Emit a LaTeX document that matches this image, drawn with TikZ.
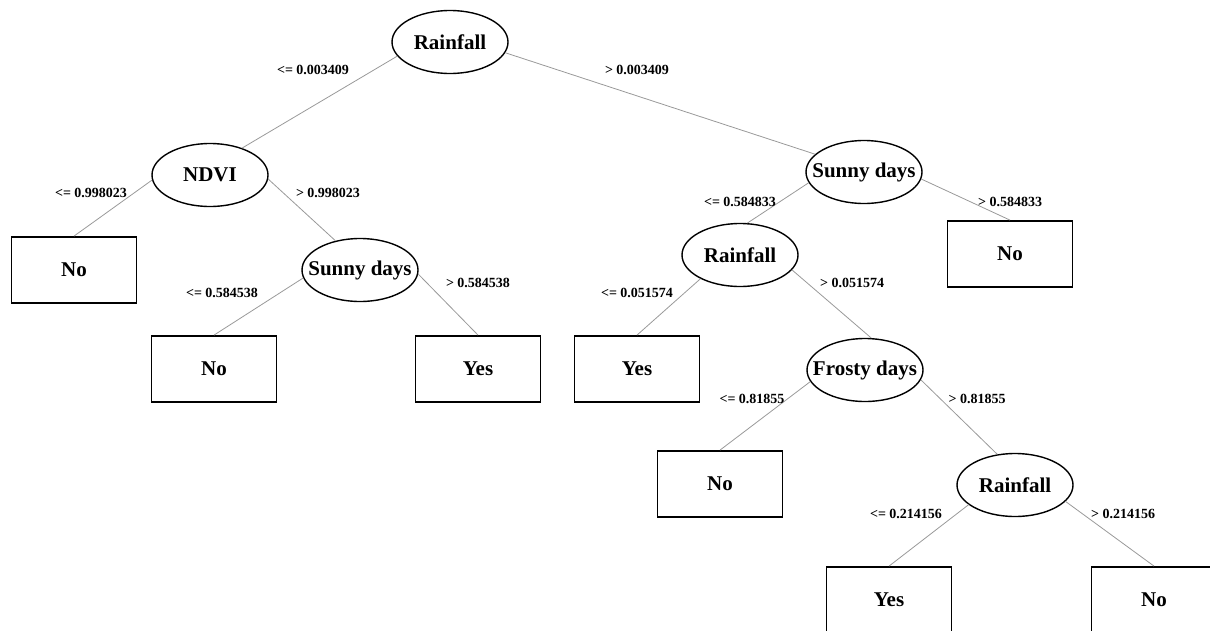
\documentclass[tikz,border=0pt]{standalone}
\usepackage{fontspec}
\setmainfont{Liberation Serif}
\usetikzlibrary{shapes.geometric}
\newcommand{\splitText}[1]{\makebox[0pt]{#1}}
\tikzset{%
  % Specifications for style of nodes:
     base/.style = {draw=black, inner sep=0pt,
                           font=\fontsize{21}{25}\selectfont\bfseries},
    splitNode/.style = {base, ellipse, line width=1.4pt,
                           minimum width=116pt, minimum height=63pt},
    leafNode/.style = {base, rectangle, line width=1.8pt,
                           minimum width=125pt, minimum height=66pt},
    ruleLabel/.style = {inner sep=0pt, font=\fontsize{14}{16}\selectfont\bfseries},
    branch/.style = {draw=black!40, line width=0.8pt},
}
\begin{document}
\begin{tikzpicture}[x=1pt, y=-1pt]
  \useasboundingbox (0,0) rectangle (1210,630);
  \clip (0,0) rectangle (1210,630);
  % Specification of nodes (position, etc.)
  \node (rootRain)   [splitNode] at (450,42)  {\splitText{Rainfall}};
  \node (ndvi)       [splitNode] at (210,175) {\splitText{NDVI}};
  \node (sunnyLeft)  [splitNode] at (360,270) {\splitText{Sunny days}};
  \node (sunnyRight) [splitNode] at (864,172) {\splitText{Sunny days}};
  \node (midRain)    [splitNode] at (740,255) {\splitText{Rainfall}};
  \node (frosty)     [splitNode] at (865,370) {\splitText{Frosty days}};
  \node (lowRain)    [splitNode] at (1015,485) {\splitText{Rainfall}};

  \node (leafNoA)    [leafNode] at (74,270)   {No};
  \node (leafNoB)    [leafNode] at (214,369)  {No};
  \node (leafYesA)   [leafNode] at (478,369)  {Yes};
  \node (leafNoC)    [leafNode] at (1010,254) {No};
  \node (leafYesB)   [leafNode] at (637,369)  {Yes};
  \node (leafNoD)    [leafNode] at (720,484)  {No};
  \node (leafYesC)   [leafNode] at (889,600)  {Yes};
  \node (leafNoE)    [leafNode] at (1154,600) {No};

  % Specification of lines between nodes specified above
  \draw[branch] (rootRain.195)   -- (ndvi.40);
  \draw[branch] (rootRain.349)   -- (sunnyRight.160);
  \draw[branch] (ndvi.185)       -- (leafNoA.north);
  \draw[branch] (ndvi.356)       -- (sunnyLeft.130);
  \draw[branch] (sunnyLeft.188)  -- (leafNoB.north);
  \draw[branch] (sunnyLeft.356)  -- (leafYesA.north);
  \draw[branch] (sunnyRight.191) -- (midRain.77);
  \draw[branch] (sunnyRight.353) -- (leafNoC.north);
  \draw[branch] (midRain.211)    -- (leafYesB.north);
  \draw[branch] (midRain.344)    -- (frosty.79);
  \draw[branch] (frosty.192)     -- (leafNoD.north);
  \draw[branch] (frosty.350)     -- (lowRain.120);
  \draw[branch] (lowRain.203)    -- (leafYesC.north);
  \draw[branch] (lowRain.342)    -- (leafNoE.north);

  % split rules
  \node (ruleA) [ruleLabel] at (313,70)   {<= 0.003409};
  \node (ruleB) [ruleLabel] at (637,70)   {> 0.003409};
  \node (ruleC) [ruleLabel] at (91,193)   {<= 0.998023};
  \node (ruleD) [ruleLabel] at (328,193)  {> 0.998023};
  \node (ruleE) [ruleLabel] at (222,293)  {<= 0.584538};
  \node (ruleF) [ruleLabel] at (478,283)  {> 0.584538};
  \node (ruleG) [ruleLabel] at (740,202)  {<= 0.584833};
  \node (ruleH) [ruleLabel] at (1010,202) {> 0.584833};
  \node (ruleI) [ruleLabel] at (637,293)  {<= 0.051574};
  \node (ruleJ) [ruleLabel] at (852,283)  {> 0.051574};
  \node (ruleK) [ruleLabel] at (752,399)  {<= 0.81855};
  \node (ruleL) [ruleLabel] at (977,399)  {> 0.81855};
  \node (ruleM) [ruleLabel] at (906,514)  {<= 0.214156};
  \node (ruleN) [ruleLabel] at (1123,514) {> 0.214156};
\end{tikzpicture}
\end{document}
